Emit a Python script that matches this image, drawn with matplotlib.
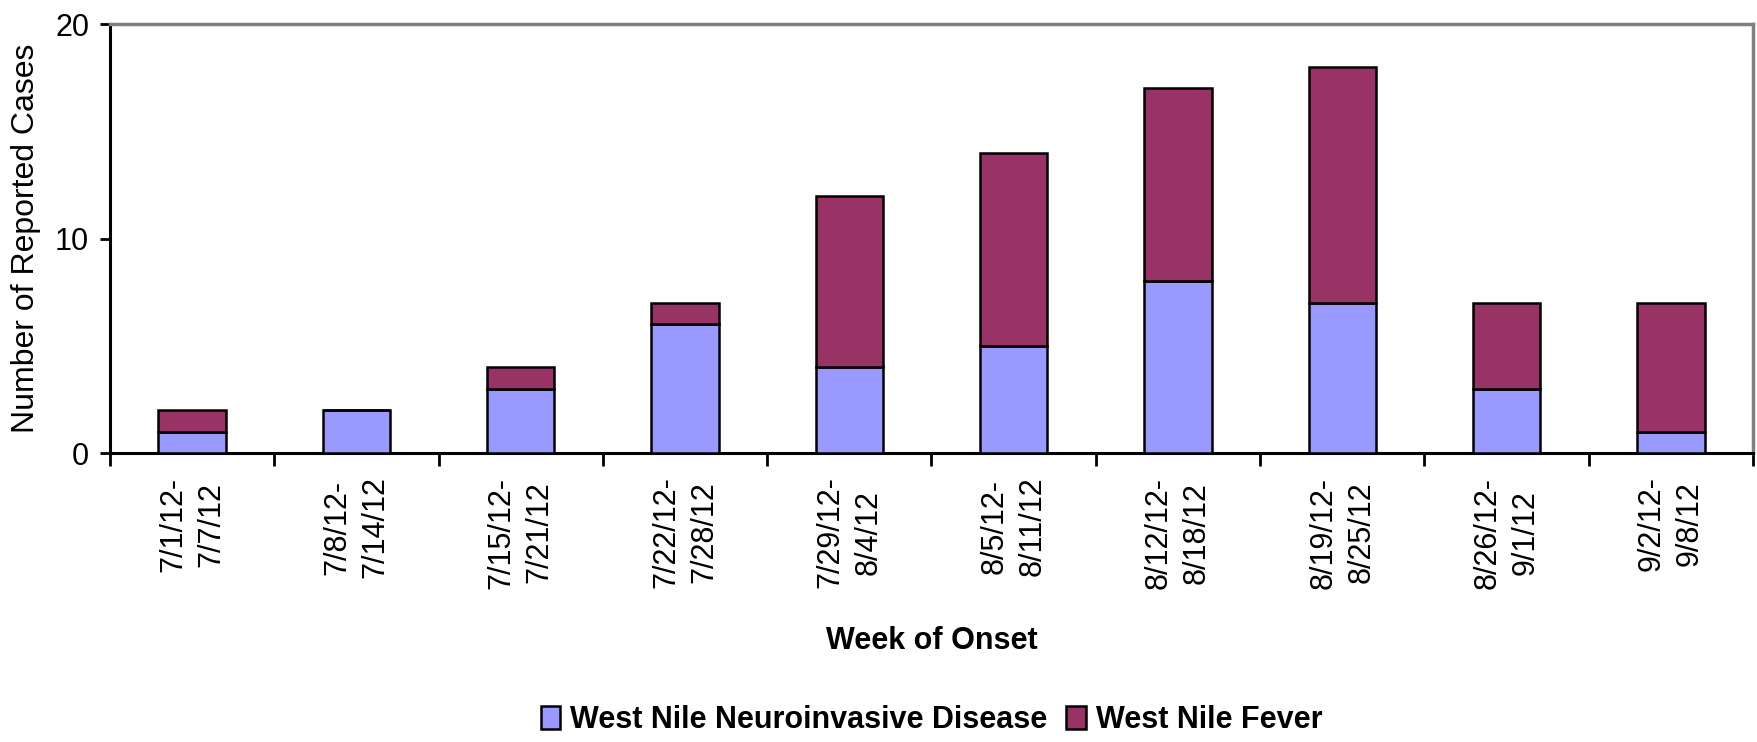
import matplotlib
matplotlib.use('Agg')
import matplotlib.pyplot as plt
import numpy as np

weeks = ['7/1/12-\n7/7/12', '7/8/12-\n7/14/12', '7/15/12-\n7/21/12', '7/22/12-\n7/28/12',
         '7/29/12-\n8/4/12', '8/5/12-\n8/11/12', '8/12/12-\n8/18/12', '8/19/12-\n8/25/12',
         '8/26/12-\n9/1/12', '9/2/12-\n9/8/12']
neuro = [1, 2, 3, 6, 4, 5, 8, 7, 3, 1]
fever = [1, 0, 1, 1, 8, 9, 9, 11, 4, 6]

plt.rcParams['font.family'] = ['Liberation Sans', 'DejaVu Sans']

W, H = 1758, 742
fig = plt.figure(figsize=(W / 100, H / 100), dpi=100)
left, right, top, bottom = 110, 1753, 24, 453
ax = fig.add_axes([left / W, 1 - bottom / H, (right - left) / W, (bottom - top) / H])

x = np.arange(len(weeks))
ax.bar(x, neuro, width=0.41, color='#9999FF', edgecolor='black', linewidth=1.8,
       label='West Nile Neuroinvasive Disease', zorder=3)
ax.bar(x, fever, width=0.41, bottom=neuro, color='#993366', edgecolor='black', linewidth=1.8,
       label='West Nile Fever', zorder=3)

ax.set_xlim(-0.5, len(weeks) - 0.5)
ax.set_ylim(0, 20)
ax.set_yticks([0, 10, 20])
ax.tick_params(axis='y', labelsize=22, length=7, width=2, direction='out', pad=8)
ax.set_xticks(np.arange(-0.5, len(weeks), 1.0))
ax.set_xticklabels([])
ax.set_xticks(x, minor=True)
ax.set_xticklabels(weeks, minor=True, rotation=90, ha='center', va='top', multialignment='center',
                   fontsize=22, linespacing=1.35)
ax.tick_params(axis='x', which='major', length=9, width=2)
ax.tick_params(axis='x', which='minor', length=0, pad=17)

for s in ['left', 'bottom']:
    ax.spines[s].set_linewidth(2.2)
for s in ['top', 'right']:
    ax.spines[s].set_color('#808080')
    ax.spines[s].set_linewidth(2.5)

ax.set_ylabel('Number of Reported Cases', fontsize=23, labelpad=10)
ax.set_xlabel('Week of Onset', fontsize=22, fontweight='bold', labelpad=27)

fig.legend(loc='center', bbox_to_anchor=((left + right) / 2 / W, 1 - 720 / H), ncol=2,
           frameon=False, prop={'size': 22, 'weight': 'bold'}, handlelength=0.65,
           handleheight=0.8, handletextpad=0.33, columnspacing=0.6, borderpad=0.2)

fig.savefig('out.png', dpi=100)
